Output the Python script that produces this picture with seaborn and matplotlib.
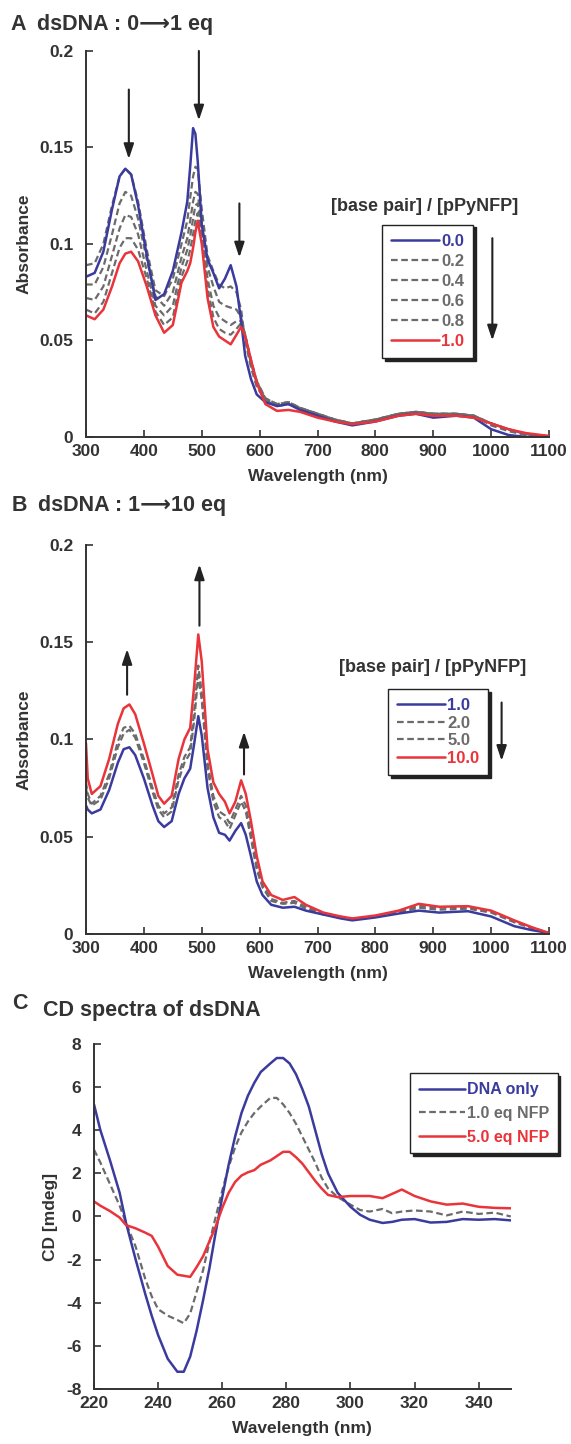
import matplotlib.pyplot as plt
import seaborn as sns
import pandas as pd

# ---- Panel A: dsDNA 0 -> 1 eq ----
wl_a = [300, 315, 330, 345, 358, 368, 378, 390, 405, 420, 435, 450, 465, 475, 480, 485, 489,
        493, 500, 510, 520, 530, 540, 550, 560, 568, 575, 585, 595, 610, 630, 650, 670, 700,
        730, 760, 800, 840, 870, 900, 940, 970, 1000, 1030, 1060, 1100]
abs_a_00 = [0.083, 0.085, 0.096, 0.118, 0.135, 0.139, 0.136, 0.120, 0.094, 0.071, 0.074, 0.086,
            0.106, 0.122, 0.140, 0.160, 0.157, 0.143, 0.110, 0.092, 0.085, 0.077, 0.082, 0.089,
            0.078, 0.060, 0.042, 0.030, 0.022, 0.018, 0.016, 0.017, 0.014, 0.011, 0.008, 0.006,
            0.008, 0.011, 0.012, 0.010, 0.011, 0.010, 0.004, 0.001, 0.0, 0.0]
abs_a_02 = [0.089, 0.090, 0.100, 0.120, 0.135, 0.139, 0.136, 0.122, 0.097, 0.076, 0.073, 0.082,
            0.100, 0.112, 0.124, 0.135, 0.140, 0.139, 0.118, 0.094, 0.086, 0.079, 0.077, 0.078,
            0.075, 0.066, 0.050, 0.036, 0.026, 0.019, 0.017, 0.018, 0.015, 0.012, 0.009, 0.007,
            0.009, 0.012, 0.013, 0.012, 0.012, 0.011, 0.006, 0.003, 0.001, 0.0003]
abs_a_04 = [0.079, 0.079, 0.088, 0.105, 0.121, 0.127, 0.125, 0.113, 0.092, 0.073, 0.068, 0.075,
            0.093, 0.103, 0.112, 0.122, 0.127, 0.126, 0.110, 0.088, 0.078, 0.070, 0.068, 0.067,
            0.066, 0.062, 0.052, 0.038, 0.028, 0.020, 0.017, 0.018, 0.015, 0.012, 0.009, 0.007,
            0.009, 0.012, 0.013, 0.012, 0.012, 0.011, 0.007, 0.004, 0.0015, 0.0004]
abs_a_06 = [0.072, 0.071, 0.078, 0.094, 0.108, 0.115, 0.114, 0.105, 0.086, 0.068, 0.063, 0.068,
            0.088, 0.097, 0.104, 0.113, 0.120, 0.121, 0.107, 0.082, 0.068, 0.062, 0.060, 0.058,
            0.060, 0.060, 0.053, 0.039, 0.029, 0.020, 0.017, 0.018, 0.015, 0.012, 0.009, 0.007,
            0.009, 0.012, 0.013, 0.012, 0.012, 0.011, 0.007, 0.004, 0.0015, 0.0004]
abs_a_08 = [0.066, 0.064, 0.070, 0.085, 0.098, 0.103, 0.103, 0.097, 0.082, 0.065, 0.058, 0.062,
            0.083, 0.091, 0.097, 0.105, 0.112, 0.116, 0.104, 0.077, 0.062, 0.056, 0.054, 0.053,
            0.056, 0.059, 0.053, 0.040, 0.029, 0.019, 0.016, 0.017, 0.015, 0.012, 0.009, 0.007,
            0.009, 0.012, 0.013, 0.012, 0.012, 0.011, 0.007, 0.004, 0.0015, 0.0004]
abs_a_10 = [0.063, 0.061, 0.066, 0.078, 0.090, 0.095, 0.096, 0.091, 0.078, 0.063, 0.054, 0.058,
            0.080, 0.086, 0.090, 0.098, 0.106, 0.112, 0.100, 0.072, 0.057, 0.052, 0.050, 0.048,
            0.053, 0.057, 0.052, 0.040, 0.028, 0.017, 0.0135, 0.014, 0.013, 0.010, 0.008, 0.0066,
            0.008, 0.011, 0.012, 0.011, 0.011, 0.010, 0.007, 0.004, 0.002, 0.0005]
labels_a = ["0.0", "0.2", "0.4", "0.6", "0.8", "1.0"]

# ---- Panel B: dsDNA 1 -> 10 eq ----
wl_b = [300, 303, 310, 325, 340, 355, 365, 375, 385, 400, 415, 425, 435, 448, 460, 470, 480,
        487, 494, 500, 510, 520, 530, 540, 548, 558, 568, 576, 585, 595, 605, 620, 640, 660,
        680, 710, 740, 760, 800, 840, 875, 910, 960, 1000, 1040, 1070, 1100]
abs_b_1 = [0.066, 0.064, 0.062, 0.064, 0.074, 0.088, 0.095, 0.096, 0.092, 0.080, 0.066, 0.058,
           0.055, 0.058, 0.072, 0.080, 0.085, 0.098, 0.112, 0.102, 0.075, 0.060, 0.052, 0.051,
           0.048, 0.053, 0.057, 0.051, 0.040, 0.027, 0.020, 0.015, 0.0135, 0.014, 0.012, 0.010,
           0.008, 0.007, 0.0085, 0.0105, 0.012, 0.011, 0.0117, 0.009, 0.004, 0.002, 0.0005]
abs_b_2 = [0.075, 0.070, 0.066, 0.069, 0.080, 0.096, 0.103, 0.105, 0.101, 0.088, 0.073, 0.064,
           0.060, 0.063, 0.079, 0.088, 0.093, 0.110, 0.133, 0.120, 0.085, 0.068, 0.060, 0.058,
           0.054, 0.061, 0.068, 0.063, 0.049, 0.033, 0.024, 0.017, 0.0155, 0.016, 0.013, 0.010,
           0.0085, 0.0075, 0.009, 0.011, 0.0135, 0.0125, 0.013, 0.011, 0.006, 0.003, 0.0005]
abs_b_5 = [0.078, 0.072, 0.067, 0.071, 0.082, 0.099, 0.106, 0.107, 0.103, 0.090, 0.075, 0.066,
           0.062, 0.065, 0.082, 0.091, 0.096, 0.115, 0.138, 0.124, 0.088, 0.071, 0.063, 0.061,
           0.057, 0.064, 0.071, 0.066, 0.052, 0.035, 0.025, 0.018, 0.016, 0.017, 0.014, 0.0105,
           0.0088, 0.0078, 0.0092, 0.0115, 0.0145, 0.0135, 0.0138, 0.0115, 0.0065, 0.0033, 0.0005]
abs_b_10 = [0.098, 0.080, 0.072, 0.076, 0.090, 0.108, 0.116, 0.118, 0.113, 0.098, 0.082, 0.071,
            0.067, 0.071, 0.090, 0.100, 0.106, 0.128, 0.154, 0.140, 0.095, 0.078, 0.072, 0.068,
            0.062, 0.068, 0.079, 0.072, 0.058, 0.040, 0.027, 0.020, 0.0175, 0.019, 0.015, 0.011,
            0.009, 0.008, 0.0095, 0.012, 0.0155, 0.014, 0.0143, 0.012, 0.007, 0.0035, 0.0005]
labels_b = ["1.0", "2.0", "5.0", "10.0"]

# ---- Panel C: CD spectra ----
wl_c = [220, 222, 225, 228, 230, 233, 236, 238, 240, 243, 246, 248, 250, 252, 254, 256, 258,
        260, 262, 264, 266, 268, 270, 272, 275, 277, 279, 281, 283, 285, 287, 289, 291, 293,
        296, 300, 303, 306, 310, 313, 316, 320, 325, 330, 335, 340, 345, 350]
cd_dna = [5.2, 4.0, 2.6, 1.1, -0.3, -2.0, -3.6, -4.6, -5.5, -6.6, -7.2, -7.2, -6.5, -5.3, -3.9,
          -2.4, -0.7, 0.9, 2.4, 3.7, 4.8, 5.6, 6.2, 6.7, 7.1, 7.35, 7.35, 7.1, 6.6, 5.9, 5.1, 4.0,
          2.9, 2.0, 1.1, 0.45, 0.08, -0.15, -0.3, -0.25, -0.15, -0.12, -0.28, -0.25, -0.12,
          -0.15, -0.12, -0.18]
cd_nfp1 = [3.1, 2.5, 1.5, 0.5, -0.3, -1.4, -2.9, -3.7, -4.3, -4.6, -4.8, -4.95, -4.5, -3.5, -2.5,
           -1.2, 0.0, 1.2, 2.3, 3.2, 3.9, 4.4, 4.8, 5.1, 5.5, 5.5, 5.2, 4.8, 4.3, 3.7, 3.1, 2.5,
           1.8, 1.3, 0.9, 0.55, 0.3, 0.23, 0.35, 0.15, 0.23, 0.28, 0.23, 0.05, 0.23, 0.12, 0.18, 0.0]
cd_nfp5 = [0.7, 0.5, 0.25, -0.05, -0.4, -0.55, -0.75, -0.9, -1.4, -2.3, -2.7, -2.75, -2.8, -2.35,
           -1.85, -1.15, -0.45, 0.4, 1.1, 1.6, 1.9, 2.05, 2.15, 2.4, 2.6, 2.8, 3.0, 3.0, 2.75,
           2.45, 2.05, 1.65, 1.3, 1.0, 0.9, 0.95, 0.95, 0.95, 0.85, 1.05, 1.25, 0.95, 0.7, 0.55,
           0.6, 0.45, 0.4, 0.38]
labels_c = ["DNA only", "1.0 eq NFP", "5.0 eq NFP"]

BLUE = "#3b3b9e"
GRAY = "#6b6b6b"
RED = "#e8343a"
TXT = "#333333"

sns.set_style("ticks")
plt.rcParams['font.family'] = ['Liberation Sans', 'DejaVu Sans']
plt.rcParams['font.weight'] = 'bold'
plt.rcParams['axes.labelweight'] = 'bold'
plt.rcParams['text.color'] = TXT
plt.rcParams['lines.solid_joinstyle'] = 'round'
plt.rcParams['lines.dash_joinstyle'] = 'round'

fig = plt.figure(figsize=(5.71, 14.44), dpi=100)
ax_a = fig.add_axes([0.1506, 0.6974, 0.811, 0.2673])
ax_b = fig.add_axes([0.1506, 0.3532, 0.811, 0.2694])
ax_c = fig.add_axes([0.1646, 0.0381, 0.730, 0.2389])


def draw_series(ax, wl, series, colors, styles):
    # grays first, coloured curves on top
    order = [i for i in range(len(series)) if colors[i] == GRAY] + \
            [i for i in range(len(series)) if colors[i] != GRAY]
    handles = {}
    for i in order:
        df = pd.DataFrame({"wl": wl, "val": series[i]})
        sns.lineplot(data=df, x="wl", y="val", ax=ax, color=colors[i], sort=False,
                     lw=1.8 if styles[i] == "-" else 1.6, estimator=None)
        ln = ax.lines[-1]
        if styles[i] != "-":
            ln.set_dashes((3, 1.6))
        handles[i] = ln
    return [handles[i] for i in range(len(series))]


def style_axes(ax, xlim, ylim, xticks, yticks, yticklabels, ylabel):
    ax.set_xlim(*xlim)
    ax.set_ylim(*ylim)
    ax.set_xticks(xticks)
    ax.set_yticks(yticks)
    ax.set_yticklabels(yticklabels)
    ax.set_xlabel("Wavelength (nm)", fontsize=12.5, color=TXT, labelpad=7)
    ax.set_ylabel(ylabel, fontsize=12.5, color=TXT, labelpad=6)
    ax.tick_params(direction="in", length=5, width=1.2, labelsize=12.5, colors=TXT)
    ax.tick_params(axis="x", pad=5)
    ax.tick_params(axis="y", pad=9)
    for lab in ax.get_xticklabels() + ax.get_yticklabels():
        lab.set_fontweight("bold")
    sns.despine(ax=ax)
    for sp in ["left", "bottom"]:
        ax.spines[sp].set_linewidth(1.4)
        ax.spines[sp].set_color(TXT)


def make_legend(ax, handles, labels, colors, anchor, fs=12, spacing=0.25):
    leg = ax.legend(handles, labels, loc="upper left", bbox_to_anchor=anchor, frameon=True,
                    fancybox=False, shadow={"color": "#222222", "alpha": 1.0}, handlelength=2.9,
                    handletextpad=0.1, borderpad=0.55, labelspacing=spacing, borderaxespad=0,
                    prop={"weight": "bold", "size": fs})
    leg.get_frame().set_edgecolor("#222222")
    leg.get_frame().set_linewidth(1.0)
    for t, c in zip(leg.get_texts(), colors):
        t.set_color(c)
    return leg


def arrow(ax, x, y0, y1):
    ax.annotate("", xy=(x, y1), xytext=(x, y0),
                arrowprops=dict(arrowstyle="-|>,head_length=0.9,head_width=0.3",
                                color="#222222", lw=1.5, shrinkA=0, shrinkB=0))


# Panel A
cols_a = [BLUE, GRAY, GRAY, GRAY, GRAY, RED]
sty_a = ["-", "--", "--", "--", "--", "-"]
h_a = draw_series(ax_a, wl_a, [abs_a_00, abs_a_02, abs_a_04, abs_a_06, abs_a_08, abs_a_10],
                  cols_a, sty_a)
style_axes(ax_a, (300, 1100), (0, 0.2), range(300, 1101, 100),
           [0, 0.05, 0.1, 0.15, 0.2], ["0", "0.05", "0.1", "0.15", "0.2"], "Absorbance")
make_legend(ax_a, h_a, labels_a, cols_a, (0.639, 0.55), spacing=0.3)
ax_a.text(885, 0.1195, "[base pair] / [pPyNFP]", ha="center", va="center", fontsize=13,
          fontweight="bold")
arrow(ax_a, 1002, 0.103, 0.05)
arrow(ax_a, 374, 0.18, 0.144)
arrow(ax_a, 495, 0.2, 0.164)
arrow(ax_a, 565, 0.121, 0.093)
fig.text(0.018, 0.983, "A", fontsize=15.5, fontweight="bold", va="center")
fig.text(0.064, 0.983, "dsDNA : 0\u27f61 eq", fontsize=15.5, fontweight="bold", va="center")

# Panel B
cols_b = [BLUE, GRAY, GRAY, RED]
sty_b = ["-", "--", "--", "-"]
h_b = draw_series(ax_b, wl_b, [abs_b_1, abs_b_2, abs_b_5, abs_b_10], cols_b, sty_b)
style_axes(ax_b, (300, 1100), (0, 0.2), range(300, 1101, 100),
           [0, 0.05, 0.1, 0.15, 0.2], ["0", "0.05", "0.1", "0.15", "0.2"], "Absorbance")
make_legend(ax_b, h_b, labels_b, cols_b, (0.652, 0.63), spacing=0.15)
ax_b.text(899, 0.137, "[base pair] / [pPyNFP]", ha="center", va="center", fontsize=13,
          fontweight="bold")
arrow(ax_b, 1018, 0.119, 0.089)
arrow(ax_b, 371, 0.123, 0.1465)
arrow(ax_b, 496, 0.1585, 0.19)
arrow(ax_b, 573, 0.082, 0.104)
fig.text(0.02, 0.650, "B", fontsize=15.5, fontweight="bold", va="center")
fig.text(0.066, 0.650, "dsDNA : 1\u27f610 eq", fontsize=15.5, fontweight="bold", va="center")

# Panel C
cols_c = [BLUE, GRAY, RED]
sty_c = ["-", "--", "-"]
h_c = draw_series(ax_c, wl_c, [cd_dna, cd_nfp1, cd_nfp5], cols_c, sty_c)
style_axes(ax_c, (220, 350), (-8, 8), range(220, 341, 20),
           range(-8, 9, 2), [str(v) for v in range(-8, 9, 2)], "CD [mdeg]")
make_legend(ax_c, h_c, labels_c, cols_c, (0.758, 0.915), fs=11.5, spacing=0.55)
fig.text(0.022, 0.305, "C", fontsize=15.5, fontweight="bold", va="center")
fig.text(0.075, 0.300, "CD spectra of dsDNA", fontsize=15.5, fontweight="bold", va="center")

fig.savefig("out.png", dpi=100)
